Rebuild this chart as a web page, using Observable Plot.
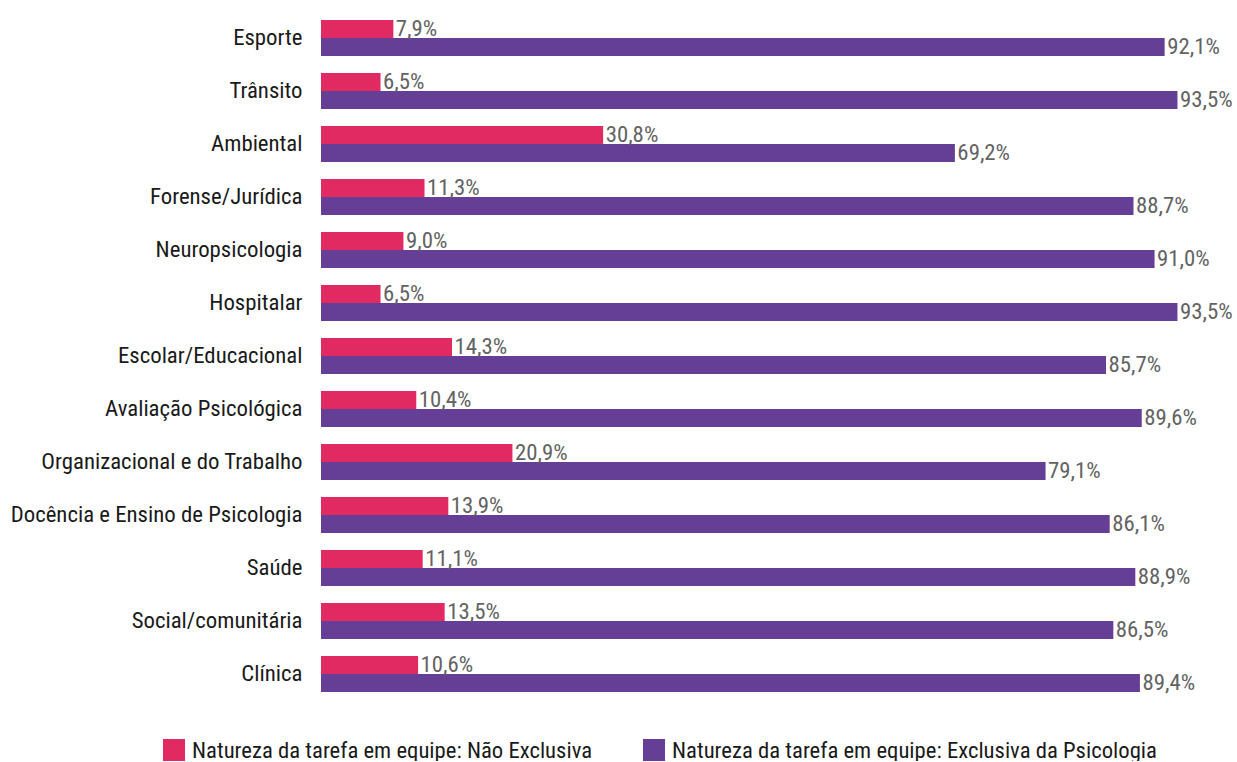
<!DOCTYPE html>
<html>
<head>
<meta charset="utf-8">
<script src="https://cdn.jsdelivr.net/npm/d3@7"></script>
<script src="https://cdn.jsdelivr.net/npm/@observablehq/plot@0.6"></script>
<style>
  body { margin: 0; background: #fff; }
  #chart { width: 1237px; }
  #chart svg { display: block; }
  #legend { position: relative; height: 22px; margin-top: 39px; width: 1237px;
    font-family: "Roboto Condensed", "Liberation Sans Narrow", "DejaVu Sans Condensed", sans-serif; font-size: 22.7px; color: #1a1a1a; }
  .item { position: absolute; top: 0; display: flex; align-items: center; white-space: nowrap; height: 22px; }
  .sw { width: 22px; height: 22px; margin-right: 7px; flex: none; }
</style>
</head>
<body>
<div id="chart"></div>
<div id="legend"></div>
<script>
const categories = ["Esporte", "Trânsito", "Ambiental", "Forense/Jurídica", "Neuropsicologia", "Hospitalar",
  "Escolar/Educacional", "Avaliação Psicológica", "Organizacional e do Trabalho",
  "Docência e Ensino de Psicologia", "Saúde", "Social/comunitária", "Clínica"];
const series = ["Natureza da tarefa em equipe: Não Exclusiva", "Natureza da tarefa em equipe: Exclusiva da Psicologia"];
const naoExclusiva = [7.9, 6.5, 30.8, 11.3, 9.0, 6.5, 14.3, 10.4, 20.9, 13.9, 11.1, 13.5, 10.6];
const exclusiva = [92.1, 93.5, 69.2, 88.7, 91.0, 93.5, 85.7, 89.6, 79.1, 86.1, 88.9, 86.5, 89.4];
const colors = ["#E12A62", "#643F95"];

const data = [];
categories.forEach((c, i) => {
  data.push({cat: c, s: series[0], v: naoExclusiva[i]});
  data.push({cat: c, s: series[1], v: exclusiva[i]});
});
const fmt = v => v.toFixed(1).replace(".", ",") + "%";
const font = '"Roboto Condensed", "Liberation Sans Narrow", "DejaVu Sans Condensed", sans-serif';

const plot = Plot.plot({
  width: 1237,
  height: 700,
  marginLeft: 321,
  marginRight: 0,
  marginTop: 19,
  marginBottom: 7,
  style: {fontFamily: font, fontSize: "22.8px", color: "#1a1a1a", background: "#fff"},
  x: {domain: [0, 100], axis: null},
  y: {domain: series, axis: null, padding: 0},
  fy: {domain: categories, paddingInner: 0.3, paddingOuter: 0, label: null, tickSize: 0, tickPadding: 19, fontSize: 22.8},
  color: {domain: series, range: colors},
  marks: [
    Plot.barX(data, {fy: "cat", y: "s", x: "v", fill: "s"}),
    Plot.text(data, {fy: "cat", y: "s", x: "v", text: d => fmt(d.v), textAnchor: "start", dx: 2, dy: -1, fill: "#636363", fontSize: 22.8})
  ]
});
document.getElementById("chart").appendChild(plot);

const legend = document.getElementById("legend");
const lefts = [163, 643];
series.forEach((s, i) => {
  const it = document.createElement("div");
  it.className = "item";
  it.style.left = lefts[i] + "px";
  const sw = document.createElement("div");
  sw.className = "sw";
  sw.style.background = colors[i];
  const t = document.createElement("span");
  t.textContent = s;
  it.appendChild(sw); it.appendChild(t);
  legend.appendChild(it);
});
</script>
</body>
</html>
